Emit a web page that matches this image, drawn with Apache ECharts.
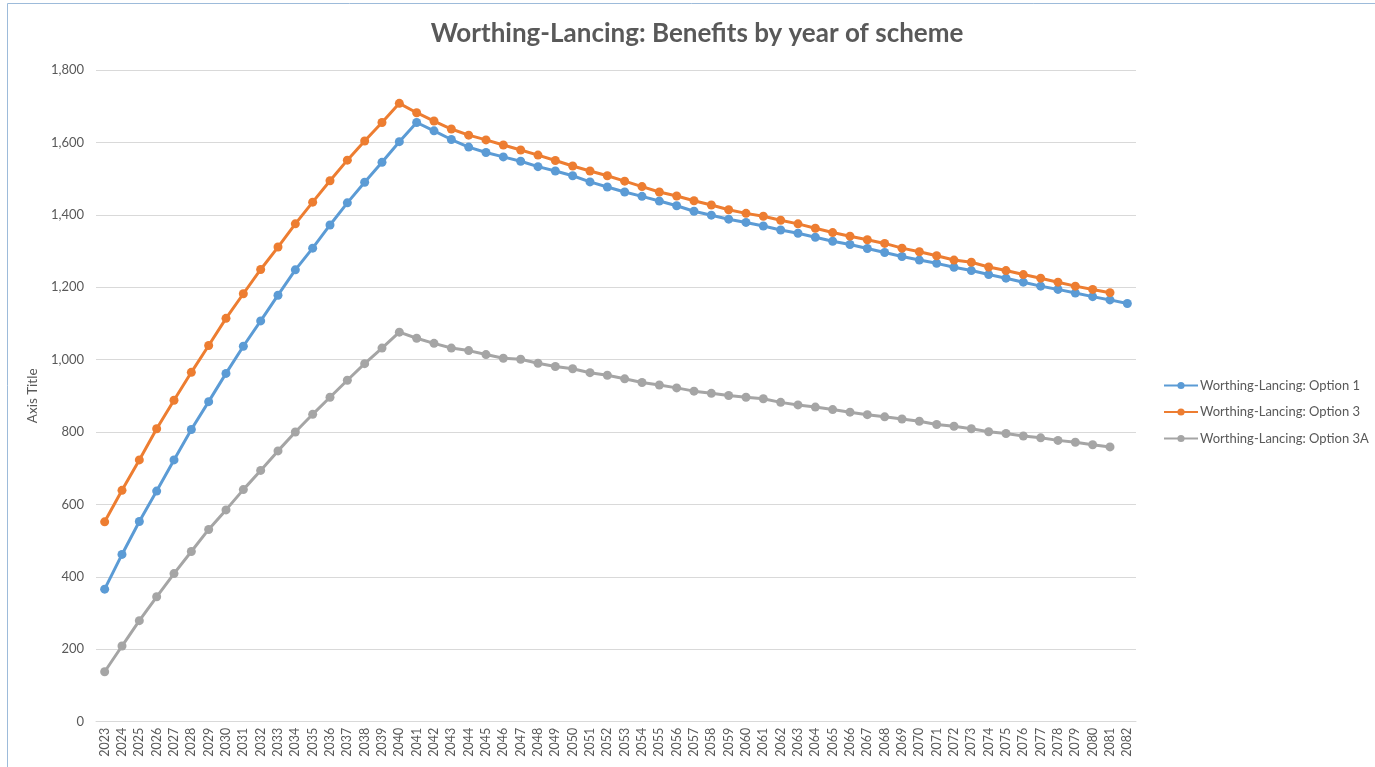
<!DOCTYPE html>
<html>
<head>
<meta charset="utf-8">
<script src="https://cdn.jsdelivr.net/npm/echarts@6/dist/echarts.min.js"></script>
<style>html,body{margin:0;padding:0;background:#fff}#c{width:1375px;height:767px}</style>
</head>
<body>
<div id="c"></div>
<script>
const years = [];
for (let y = 2023; y <= 2082; y++) years.push(String(y));

const option1 = [366,462,553,637,723,807,884,962,1037,1107,1178,1248,1308,1372,1433,1490,1545,1602,1655,1632,1608,1587,1572,1560,1548,1533,1521,1508,1491,1477,1463,1451,1438,1425,1410,1399,1388,1379,1369,1358,1349,1338,1327,1318,1307,1296,1285,1275,1266,1255,1246,1235,1225,1214,1203,1194,1184,1174,1165,1155];
const option3 = [552,639,723,809,888,965,1039,1114,1182,1249,1311,1375,1435,1494,1551,1604,1655,1708,1682,1659,1637,1620,1607,1593,1579,1565,1550,1535,1521,1508,1493,1478,1463,1452,1439,1427,1414,1404,1396,1385,1375,1363,1351,1341,1331,1321,1308,1298,1287,1275,1269,1256,1246,1235,1225,1214,1203,1194,1185,null];
const option3A = [138,209,279,345,409,470,531,585,641,694,748,800,849,896,943,989,1032,1076,1059,1045,1032,1025,1014,1004,1001,990,981,975,964,957,947,937,930,922,913,907,901,896,892,882,875,869,862,855,848,842,836,830,821,816,809,801,796,789,784,777,772,765,759,null];

const seriesNames = ['Worthing-Lancing: Option 1','Worthing-Lancing: Option 3','Worthing-Lancing: Option 3A'];
const colors = ['#5B9BD5','#ED7D31','#A5A5A5'];
const font = 'Lato, "Open Sans", sans-serif';

const chart = echarts.init(document.getElementById('c'));
const mk = (name, data, color) => ({
  name, type: 'line', data, color,
  symbol: 'circle', symbolSize: 9, showSymbol: true,
  lineStyle: { width: 3, color },
  itemStyle: { color },
  animation: false
});
chart.setOption({
  animation: false,
  graphic: [{
    type: 'rect', shape: { x: 7.5, y: 3.5, width: 1400, height: 800 },
    style: { fill: 'none', stroke: '#9DBBDA', lineWidth: 1 }, silent: true
  }],
  title: {
    text: 'Worthing-Lancing: Benefits by year of scheme',
    left: 692, top: 16, textAlign: 'center',
    textStyle: { fontFamily: font, fontSize: 26, fontWeight: 'bold', color: '#595959' }
  },
  grid: { left: 96, right: 239, top: 70, bottom: 45.3, containLabel: false },
  legend: {
    orient: 'vertical', left: 1158, top: 374, itemGap: 13.5, itemWidth: 34, itemHeight: 9,
    textStyle: { fontFamily: font, fontSize: 13, color: '#595959', padding: [0, 0, 0, -3] },
    data: seriesNames
  },
  xAxis: {
    type: 'category', data: years, boundaryGap: true,
    axisLine: { lineStyle: { color: '#D9D9D9' } },
    axisTick: { show: false },
    axisLabel: { rotate: 90, interval: 0, fontFamily: font, fontSize: 12.5, color: '#595959', margin: 6 }
  },
  yAxis: {
    type: 'value', min: 0, max: 1800, interval: 200,
    name: 'Axis Title', nameLocation: 'middle', nameGap: 52, nameRotate: 90,
    nameTextStyle: { fontFamily: font, fontSize: 13.5, color: '#595959' },
    axisLine: { show: false }, axisTick: { show: false },
    splitLine: { lineStyle: { color: '#D9D9D9' } },
    axisLabel: { fontFamily: font, fontSize: 13, color: '#595959', margin: 12,
      formatter: v => v.toLocaleString('en-US') }
  },
  series: [mk(seriesNames[0], option1, colors[0]), mk(seriesNames[1], option3, colors[1]), mk(seriesNames[2], option3A, colors[2])]
});
</script>
</body>
</html>
